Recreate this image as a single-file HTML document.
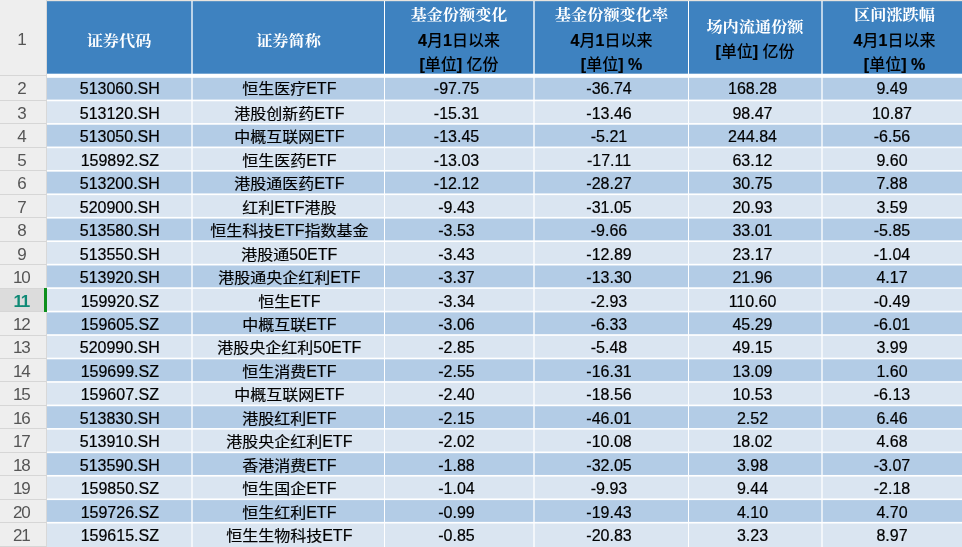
<!DOCTYPE html><html><head><meta charset="utf-8"><title>ETF份额变化</title><style>
*{margin:0;padding:0;box-sizing:border-box}
html,body{width:962px;height:547px;overflow:hidden;background:#fff}
body{font-family:"Liberation Sans","Noto Sans CJK SC",sans-serif;font-size:16px;color:#000}
#w{position:absolute;left:0;top:0;width:962px;height:547px;overflow:hidden;will-change:transform}
.a{position:absolute}
.b{position:absolute;left:47px;right:0}
.g{position:absolute;left:0;width:46px;height:1px;background:#d6d6d6}
.rn{position:absolute;left:0;width:42.6px;height:21.8px;line-height:21.8px;text-align:center;color:#555555;font-size:17px;letter-spacing:-1.2px}
.c{position:absolute;height:21.8px;line-height:21.8px;text-align:center;white-space:nowrap;-webkit-text-stroke:0.2px #000}
.n{padding-right:5px}
.k{display:inline-block;position:relative;top:1.0px;transform:scaleY(0.89);transform-origin:50% 50%}
.hc{position:absolute;text-align:center;white-space:nowrap}
.h1{font-family:"Liberation Serif","Noto Serif CJK SC",serif;font-weight:700;color:#fff;font-size:16.2px;line-height:20px;transform:scaleY(0.9)}
.h2{font-family:"Liberation Sans","Noto Sans CJK SC Medium","Noto Sans CJK SC",sans-serif;font-weight:400;color:#000;font-size:16px;line-height:20px}
.h2 b{font-weight:700;-webkit-text-stroke:0.2px #000}
</style></head><body><div id="w">
<div class="b" style="top:0px;height:1px;background:#e8e4de"></div>
<div class="b" style="top:1px;height:1px;background:#6096c6"></div>
<div class="b" style="top:2px;height:71px;background:#3e82c0"></div>
<div class="b" style="top:73px;height:1px;background:#78a7d3"></div>
<div class="b" style="top:74px;height:3px;background:#ffffff"></div>
<div class="b" style="top:77px;height:1px;background:#f0f5fa"></div>
<div class="b" style="top:78px;height:21px;background:#b3cce6"></div>
<div class="b" style="top:99px;height:1px;background:#d1e0f0"></div>
<div class="b" style="top:100px;height:1px;background:#ffffff"></div>
<div class="b" style="top:101px;height:1px;background:#e4ecf5"></div>
<div class="b" style="top:102px;height:21px;background:#dae5f1"></div>
<div class="b" style="top:123px;height:1px;background:#fdfdfe"></div>
<div class="b" style="top:124px;height:1px;background:#eaf1f8"></div>
<div class="b" style="top:125px;height:21px;background:#b3cce6"></div>
<div class="b" style="top:146px;height:1px;background:#d7e4f2"></div>
<div class="b" style="top:147px;height:1px;background:#ffffff"></div>
<div class="b" style="top:148px;height:1px;background:#e1eaf4"></div>
<div class="b" style="top:149px;height:20px;background:#dae5f1"></div>
<div class="b" style="top:169px;height:1px;background:#dbe6f1"></div>
<div class="b" style="top:170px;height:1px;background:#ffffff"></div>
<div class="b" style="top:171px;height:1px;background:#e4edf6"></div>
<div class="b" style="top:172px;height:21px;background:#b3cce6"></div>
<div class="b" style="top:193px;height:1px;background:#dee9f4"></div>
<div class="b" style="top:194px;height:1px;background:#ffffff"></div>
<div class="b" style="top:195px;height:1px;background:#dee8f2"></div>
<div class="b" style="top:196px;height:20px;background:#dae5f1"></div>
<div class="b" style="top:216px;height:1px;background:#dee8f2"></div>
<div class="b" style="top:217px;height:1px;background:#ffffff"></div>
<div class="b" style="top:218px;height:1px;background:#dee9f4"></div>
<div class="b" style="top:219px;height:21px;background:#b3cce6"></div>
<div class="b" style="top:240px;height:1px;background:#e4edf6"></div>
<div class="b" style="top:241px;height:1px;background:#ffffff"></div>
<div class="b" style="top:242px;height:1px;background:#dbe6f1"></div>
<div class="b" style="top:243px;height:20px;background:#dae5f1"></div>
<div class="b" style="top:263px;height:1px;background:#e1eaf4"></div>
<div class="b" style="top:264px;height:1px;background:#ffffff"></div>
<div class="b" style="top:265px;height:1px;background:#d7e4f2"></div>
<div class="b" style="top:266px;height:21px;background:#b3cce6"></div>
<div class="b" style="top:287px;height:1px;background:#eaf1f8"></div>
<div class="b" style="top:288px;height:1px;background:#fdfdfe"></div>
<div class="b" style="top:289px;height:21px;background:#dae5f1"></div>
<div class="b" style="top:310px;height:1px;background:#e4ecf5"></div>
<div class="b" style="top:311px;height:1px;background:#ffffff"></div>
<div class="b" style="top:312px;height:1px;background:#d1e0f0"></div>
<div class="b" style="top:313px;height:21px;background:#b3cce6"></div>
<div class="b" style="top:334px;height:1px;background:#f0f5fa"></div>
<div class="b" style="top:335px;height:1px;background:#fafbfd"></div>
<div class="b" style="top:336px;height:21px;background:#dae5f1"></div>
<div class="b" style="top:357px;height:1px;background:#e7eef6"></div>
<div class="b" style="top:358px;height:1px;background:#ffffff"></div>
<div class="b" style="top:359px;height:1px;background:#cbdcee"></div>
<div class="b" style="top:360px;height:21px;background:#b3cce6"></div>
<div class="b" style="top:381px;height:1px;background:#f6f9fc"></div>
<div class="b" style="top:382px;height:1px;background:#f7f9fc"></div>
<div class="b" style="top:383px;height:21px;background:#dae5f1"></div>
<div class="b" style="top:404px;height:1px;background:#eaf0f7"></div>
<div class="b" style="top:405px;height:1px;background:#ffffff"></div>
<div class="b" style="top:406px;height:1px;background:#c5d8ec"></div>
<div class="b" style="top:407px;height:21px;background:#b3cce6"></div>
<div class="b" style="top:428px;height:1px;background:#fcfdfe"></div>
<div class="b" style="top:429px;height:1px;background:#f4f7fb"></div>
<div class="b" style="top:430px;height:21px;background:#dae5f1"></div>
<div class="b" style="top:451px;height:1px;background:#ecf2f8"></div>
<div class="b" style="top:452px;height:1px;background:#ffffff"></div>
<div class="b" style="top:453px;height:1px;background:#bfd4ea"></div>
<div class="b" style="top:454px;height:20px;background:#b3cce6"></div>
<div class="b" style="top:474px;height:1px;background:#b6cee7"></div>
<div class="b" style="top:475px;height:1px;background:#ffffff"></div>
<div class="b" style="top:476px;height:1px;background:#f1f5fa"></div>
<div class="b" style="top:477px;height:21px;background:#dae5f1"></div>
<div class="b" style="top:498px;height:1px;background:#eff4f9"></div>
<div class="b" style="top:499px;height:1px;background:#ffffff"></div>
<div class="b" style="top:500px;height:1px;background:#b9d0e8"></div>
<div class="b" style="top:501px;height:20px;background:#b3cce6"></div>
<div class="b" style="top:521px;height:1px;background:#bcd2e9"></div>
<div class="b" style="top:522px;height:1px;background:#ffffff"></div>
<div class="b" style="top:523px;height:1px;background:#eef3f9"></div>
<div class="b" style="top:524px;height:23px;background:#dae5f1"></div>
<div class="a" style="left:191px;top:1px;width:2px;height:546px;background:rgba(255,255,255,0.65)"></div>
<div class="a" style="left:384px;top:1px;width:1px;height:546px;background:rgba(255,255,255,1.0)"></div>
<div class="a" style="left:533px;top:1px;width:2px;height:546px;background:rgba(255,255,255,0.65)"></div>
<div class="a" style="left:688px;top:1px;width:1px;height:546px;background:rgba(255,255,255,1.0)"></div>
<div class="a" style="left:821px;top:1px;width:2px;height:546px;background:rgba(255,255,255,0.65)"></div>
<div class="a" style="left:0;top:0;width:47px;height:547px;background:#eeeeee"></div>
<div class="a" style="left:0;top:289px;width:46px;height:22px;background:#dcdcdc"></div>
<div class="g" style="top:75px"></div>
<div class="g" style="top:100px"></div>
<div class="g" style="top:123px"></div>
<div class="g" style="top:147px"></div>
<div class="g" style="top:170px"></div>
<div class="g" style="top:194px"></div>
<div class="g" style="top:217px"></div>
<div class="g" style="top:241px"></div>
<div class="g" style="top:264px"></div>
<div class="g" style="top:288px"></div>
<div class="g" style="top:311px"></div>
<div class="g" style="top:335px"></div>
<div class="g" style="top:358px"></div>
<div class="g" style="top:381px"></div>
<div class="g" style="top:405px"></div>
<div class="g" style="top:428px"></div>
<div class="g" style="top:452px"></div>
<div class="g" style="top:475px"></div>
<div class="g" style="top:499px"></div>
<div class="g" style="top:522px"></div>
<div class="g" style="top:546px"></div>
<div class="a" style="left:46px;top:0;width:1px;height:547px;background:#d8d8d8"></div>
<div class="a" style="left:44px;top:288px;width:3px;height:24px;background:#0c8f1c"></div>
<div class="rn" style="top:2px;height:75px;line-height:75px">1</div>
<div class="hc h1" style="left:47px;width:144px;top:31.2px">证券代码</div>
<div class="hc h1" style="left:193px;width:191px;top:31.2px">证券简称</div>
<div class="hc h1" style="left:385px;width:148px;top:5.2px">基金份额变化</div>
<div class="hc h2" style="left:385px;width:148px;top:30.5px"><b>4</b>月<b>1</b>日以来</div>
<div class="hc h2" style="left:385px;width:148px;top:55px"><b>[</b>单位<b>]</b> 亿份</div>
<div class="hc h1" style="left:535px;width:153px;top:5.2px">基金份额变化率</div>
<div class="hc h2" style="left:535px;width:153px;top:30.5px"><b>4</b>月<b>1</b>日以来</div>
<div class="hc h2" style="left:535px;width:153px;top:55px"><b>[</b>单位<b>]</b> <b>%</b></div>
<div class="hc h1" style="left:689px;width:132px;top:17.4px">场内流通份额</div>
<div class="hc h2" style="left:689px;width:132px;top:42px"><b>[</b>单位<b>]</b> 亿份</div>
<div class="hc h1" style="left:823px;width:143px;top:5.2px">区间涨跌幅</div>
<div class="hc h2" style="left:823px;width:143px;top:30.5px"><b>4</b>月<b>1</b>日以来</div>
<div class="hc h2" style="left:823px;width:143px;top:55px"><b>[</b>单位<b>]</b> <b>%</b></div>
<div class="rn" style="top:77.80px;">2</div>
<div class="c" style="left:47.80px;width:144px;top:77.80px">513060.SH</div>
<div class="c" style="left:193.80px;width:191px;top:77.80px"><span class="k">恒生医疗</span>ETF</div>
<div class="c n" style="left:385.00px;width:148px;top:77.80px">-97.75</div>
<div class="c n" style="left:535.00px;width:153px;top:77.80px">-36.74</div>
<div class="c n" style="left:689.00px;width:132px;top:77.80px">168.28</div>
<div class="c n" style="left:823.00px;width:143px;top:77.80px">9.49</div>
<div class="rn" style="top:102.86px;">3</div>
<div class="c" style="left:47.80px;width:144px;top:102.86px">513120.SH</div>
<div class="c" style="left:193.80px;width:191px;top:102.86px"><span class="k">港股创新药</span>ETF</div>
<div class="c n" style="left:385.00px;width:148px;top:102.86px">-15.31</div>
<div class="c n" style="left:535.00px;width:153px;top:102.86px">-13.46</div>
<div class="c n" style="left:689.00px;width:132px;top:102.86px">98.47</div>
<div class="c n" style="left:823.00px;width:143px;top:102.86px">10.87</div>
<div class="rn" style="top:126.32px;">4</div>
<div class="c" style="left:47.80px;width:144px;top:126.32px">513050.SH</div>
<div class="c" style="left:193.80px;width:191px;top:126.32px"><span class="k">中概互联网</span>ETF</div>
<div class="c n" style="left:385.00px;width:148px;top:126.32px">-13.45</div>
<div class="c n" style="left:535.00px;width:153px;top:126.32px">-5.21</div>
<div class="c n" style="left:689.00px;width:132px;top:126.32px">244.84</div>
<div class="c n" style="left:823.00px;width:143px;top:126.32px">-6.56</div>
<div class="rn" style="top:149.78px;">5</div>
<div class="c" style="left:47.80px;width:144px;top:149.78px">159892.SZ</div>
<div class="c" style="left:193.80px;width:191px;top:149.78px"><span class="k">恒生医药</span>ETF</div>
<div class="c n" style="left:385.00px;width:148px;top:149.78px">-13.03</div>
<div class="c n" style="left:535.00px;width:153px;top:149.78px">-17.11</div>
<div class="c n" style="left:689.00px;width:132px;top:149.78px">63.12</div>
<div class="c n" style="left:823.00px;width:143px;top:149.78px">9.60</div>
<div class="rn" style="top:173.24px;">6</div>
<div class="c" style="left:47.80px;width:144px;top:173.24px">513200.SH</div>
<div class="c" style="left:193.80px;width:191px;top:173.24px"><span class="k">港股通医药</span>ETF</div>
<div class="c n" style="left:385.00px;width:148px;top:173.24px">-12.12</div>
<div class="c n" style="left:535.00px;width:153px;top:173.24px">-28.27</div>
<div class="c n" style="left:689.00px;width:132px;top:173.24px">30.75</div>
<div class="c n" style="left:823.00px;width:143px;top:173.24px">7.88</div>
<div class="rn" style="top:196.70px;">7</div>
<div class="c" style="left:47.80px;width:144px;top:196.70px">520900.SH</div>
<div class="c" style="left:193.80px;width:191px;top:196.70px"><span class="k">红利</span>ETF<span class="k">港股</span></div>
<div class="c n" style="left:385.00px;width:148px;top:196.70px">-9.43</div>
<div class="c n" style="left:535.00px;width:153px;top:196.70px">-31.05</div>
<div class="c n" style="left:689.00px;width:132px;top:196.70px">20.93</div>
<div class="c n" style="left:823.00px;width:143px;top:196.70px">3.59</div>
<div class="rn" style="top:220.16px;">8</div>
<div class="c" style="left:47.80px;width:144px;top:220.16px">513580.SH</div>
<div class="c" style="left:193.80px;width:191px;top:220.16px"><span class="k">恒生科技</span>ETF<span class="k">指数基金</span></div>
<div class="c n" style="left:385.00px;width:148px;top:220.16px">-3.53</div>
<div class="c n" style="left:535.00px;width:153px;top:220.16px">-9.66</div>
<div class="c n" style="left:689.00px;width:132px;top:220.16px">33.01</div>
<div class="c n" style="left:823.00px;width:143px;top:220.16px">-5.85</div>
<div class="rn" style="top:243.62px;">9</div>
<div class="c" style="left:47.80px;width:144px;top:243.62px">513550.SH</div>
<div class="c" style="left:193.80px;width:191px;top:243.62px"><span class="k">港股通</span>50ETF</div>
<div class="c n" style="left:385.00px;width:148px;top:243.62px">-3.43</div>
<div class="c n" style="left:535.00px;width:153px;top:243.62px">-12.89</div>
<div class="c n" style="left:689.00px;width:132px;top:243.62px">23.17</div>
<div class="c n" style="left:823.00px;width:143px;top:243.62px">-1.04</div>
<div class="rn" style="top:267.08px;">10</div>
<div class="c" style="left:47.80px;width:144px;top:267.08px">513920.SH</div>
<div class="c" style="left:193.80px;width:191px;top:267.08px"><span class="k">港股通央企红利</span>ETF</div>
<div class="c n" style="left:385.00px;width:148px;top:267.08px">-3.37</div>
<div class="c n" style="left:535.00px;width:153px;top:267.08px">-13.30</div>
<div class="c n" style="left:689.00px;width:132px;top:267.08px">21.96</div>
<div class="c n" style="left:823.00px;width:143px;top:267.08px">4.17</div>
<div class="rn" style="top:290.54px;color:#108a76;font-weight:700;">11</div>
<div class="c" style="left:47.80px;width:144px;top:290.54px">159920.SZ</div>
<div class="c" style="left:193.80px;width:191px;top:290.54px"><span class="k">恒生</span>ETF</div>
<div class="c n" style="left:385.00px;width:148px;top:290.54px">-3.34</div>
<div class="c n" style="left:535.00px;width:153px;top:290.54px">-2.93</div>
<div class="c n" style="left:689.00px;width:132px;top:290.54px">110.60</div>
<div class="c n" style="left:823.00px;width:143px;top:290.54px">-0.49</div>
<div class="rn" style="top:314.00px;">12</div>
<div class="c" style="left:47.80px;width:144px;top:314.00px">159605.SZ</div>
<div class="c" style="left:193.80px;width:191px;top:314.00px"><span class="k">中概互联</span>ETF</div>
<div class="c n" style="left:385.00px;width:148px;top:314.00px">-3.06</div>
<div class="c n" style="left:535.00px;width:153px;top:314.00px">-6.33</div>
<div class="c n" style="left:689.00px;width:132px;top:314.00px">45.29</div>
<div class="c n" style="left:823.00px;width:143px;top:314.00px">-6.01</div>
<div class="rn" style="top:337.46px;">13</div>
<div class="c" style="left:47.80px;width:144px;top:337.46px">520990.SH</div>
<div class="c" style="left:193.80px;width:191px;top:337.46px"><span class="k">港股央企红利</span>50ETF</div>
<div class="c n" style="left:385.00px;width:148px;top:337.46px">-2.85</div>
<div class="c n" style="left:535.00px;width:153px;top:337.46px">-5.48</div>
<div class="c n" style="left:689.00px;width:132px;top:337.46px">49.15</div>
<div class="c n" style="left:823.00px;width:143px;top:337.46px">3.99</div>
<div class="rn" style="top:360.92px;">14</div>
<div class="c" style="left:47.80px;width:144px;top:360.92px">159699.SZ</div>
<div class="c" style="left:193.80px;width:191px;top:360.92px"><span class="k">恒生消费</span>ETF</div>
<div class="c n" style="left:385.00px;width:148px;top:360.92px">-2.55</div>
<div class="c n" style="left:535.00px;width:153px;top:360.92px">-16.31</div>
<div class="c n" style="left:689.00px;width:132px;top:360.92px">13.09</div>
<div class="c n" style="left:823.00px;width:143px;top:360.92px">1.60</div>
<div class="rn" style="top:384.38px;">15</div>
<div class="c" style="left:47.80px;width:144px;top:384.38px">159607.SZ</div>
<div class="c" style="left:193.80px;width:191px;top:384.38px"><span class="k">中概互联网</span>ETF</div>
<div class="c n" style="left:385.00px;width:148px;top:384.38px">-2.40</div>
<div class="c n" style="left:535.00px;width:153px;top:384.38px">-18.56</div>
<div class="c n" style="left:689.00px;width:132px;top:384.38px">10.53</div>
<div class="c n" style="left:823.00px;width:143px;top:384.38px">-6.13</div>
<div class="rn" style="top:407.84px;">16</div>
<div class="c" style="left:47.80px;width:144px;top:407.84px">513830.SH</div>
<div class="c" style="left:193.80px;width:191px;top:407.84px"><span class="k">港股红利</span>ETF</div>
<div class="c n" style="left:385.00px;width:148px;top:407.84px">-2.15</div>
<div class="c n" style="left:535.00px;width:153px;top:407.84px">-46.01</div>
<div class="c n" style="left:689.00px;width:132px;top:407.84px">2.52</div>
<div class="c n" style="left:823.00px;width:143px;top:407.84px">6.46</div>
<div class="rn" style="top:431.30px;">17</div>
<div class="c" style="left:47.80px;width:144px;top:431.30px">513910.SH</div>
<div class="c" style="left:193.80px;width:191px;top:431.30px"><span class="k">港股央企红利</span>ETF</div>
<div class="c n" style="left:385.00px;width:148px;top:431.30px">-2.02</div>
<div class="c n" style="left:535.00px;width:153px;top:431.30px">-10.08</div>
<div class="c n" style="left:689.00px;width:132px;top:431.30px">18.02</div>
<div class="c n" style="left:823.00px;width:143px;top:431.30px">4.68</div>
<div class="rn" style="top:454.76px;">18</div>
<div class="c" style="left:47.80px;width:144px;top:454.76px">513590.SH</div>
<div class="c" style="left:193.80px;width:191px;top:454.76px"><span class="k">香港消费</span>ETF</div>
<div class="c n" style="left:385.00px;width:148px;top:454.76px">-1.88</div>
<div class="c n" style="left:535.00px;width:153px;top:454.76px">-32.05</div>
<div class="c n" style="left:689.00px;width:132px;top:454.76px">3.98</div>
<div class="c n" style="left:823.00px;width:143px;top:454.76px">-3.07</div>
<div class="rn" style="top:478.22px;">19</div>
<div class="c" style="left:47.80px;width:144px;top:478.22px">159850.SZ</div>
<div class="c" style="left:193.80px;width:191px;top:478.22px"><span class="k">恒生国企</span>ETF</div>
<div class="c n" style="left:385.00px;width:148px;top:478.22px">-1.04</div>
<div class="c n" style="left:535.00px;width:153px;top:478.22px">-9.93</div>
<div class="c n" style="left:689.00px;width:132px;top:478.22px">9.44</div>
<div class="c n" style="left:823.00px;width:143px;top:478.22px">-2.18</div>
<div class="rn" style="top:501.68px;">20</div>
<div class="c" style="left:47.80px;width:144px;top:501.68px">159726.SZ</div>
<div class="c" style="left:193.80px;width:191px;top:501.68px"><span class="k">恒生红利</span>ETF</div>
<div class="c n" style="left:385.00px;width:148px;top:501.68px">-0.99</div>
<div class="c n" style="left:535.00px;width:153px;top:501.68px">-19.43</div>
<div class="c n" style="left:689.00px;width:132px;top:501.68px">4.10</div>
<div class="c n" style="left:823.00px;width:143px;top:501.68px">4.70</div>
<div class="rn" style="top:525.14px;">21</div>
<div class="c" style="left:47.80px;width:144px;top:525.14px">159615.SZ</div>
<div class="c" style="left:193.80px;width:191px;top:525.14px"><span class="k">恒生生物科技</span>ETF</div>
<div class="c n" style="left:385.00px;width:148px;top:525.14px">-0.85</div>
<div class="c n" style="left:535.00px;width:153px;top:525.14px">-20.83</div>
<div class="c n" style="left:689.00px;width:132px;top:525.14px">3.23</div>
<div class="c n" style="left:823.00px;width:143px;top:525.14px">8.97</div>
</div></body></html>
